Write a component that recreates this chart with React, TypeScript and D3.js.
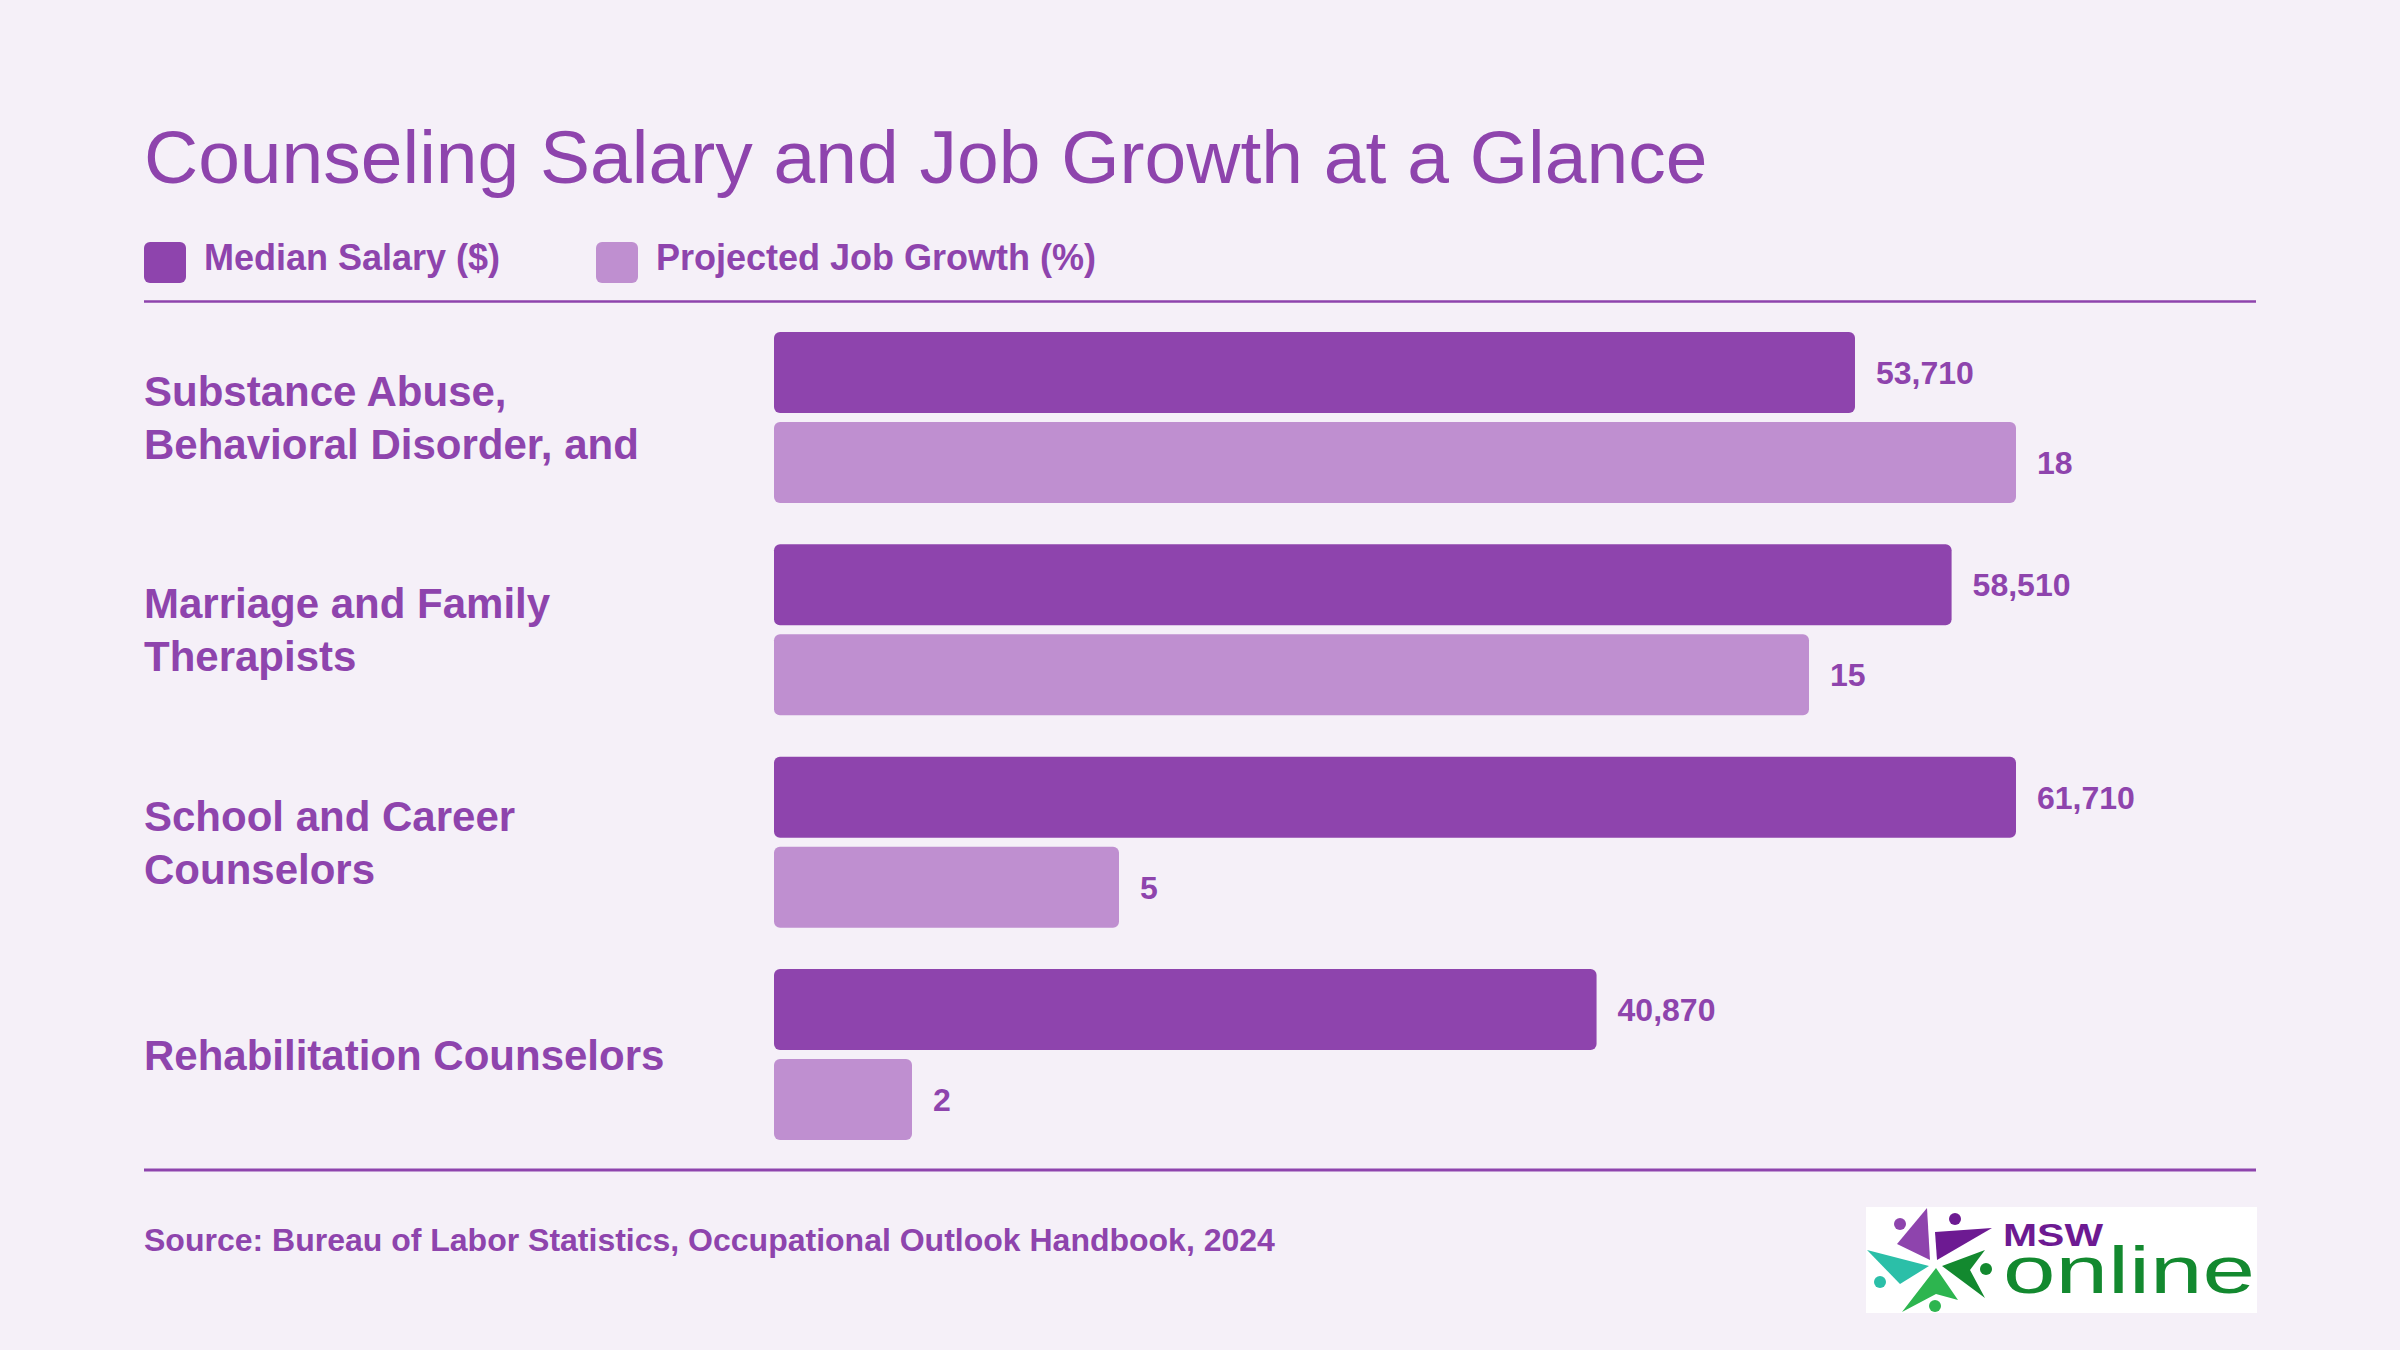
import React from 'react';
import * as d3 from 'd3';

const categories = [
  'Substance Abuse, Behavioral Disorder, and',
  'Marriage and Family Therapists',
  'School and Career Counselors',
  'Rehabilitation Counselors',
];
const categoryLines = [
  ['Substance Abuse,', 'Behavioral Disorder, and'],
  ['Marriage and Family', 'Therapists'],
  ['School and Career', 'Counselors'],
  ['Rehabilitation Counselors'],
];
const medianSalary = [53710, 58510, 61710, 40870];
const jobGrowth = [18, 15, 5, 2];
const seriesNames = ['Median Salary ($)', 'Projected Job Growth (%)'];

const W = 2400;
const H = 1350;
const PURPLE = '#8e44ad';
const LIGHT = '#bf8fd0';
const BG = '#f5f0f8';
const FONT = '"Liberation Sans", Arial, Helvetica, sans-serif';

export default function App() {
  // one row per category, two bars per row
  const y = d3.scaleBand<string>()
    .domain(categories)
    .range([332, 1140])
    .paddingInner(0.195);
  const ySub = d3.scaleBand<string>()
    .domain(['salary', 'growth'])
    .range([0, y.bandwidth()])
    .paddingInner(0.1);

  // each series scaled to its own maximum
  const xSalary = d3.scaleLinear().domain([0, d3.max(medianSalary)!]).range([774, 2016]);
  const xGrowth = d3.scaleLinear().domain([0, d3.max(jobGrowth)!]).range([774, 2016]);
  const fmt = d3.format(',');

  const rows = categories.map((c, i) => ({
    name: c,
    lines: categoryLines[i],
    salary: medianSalary[i],
    growth: jobGrowth[i],
  }));

  return (
    <div>
      <style>{'body{margin:0;}'}</style>
      <svg width={W} height={H} style={{ display: 'block', fontFamily: FONT }}>
        <rect x={0} y={0} width={W} height={H} fill={BG} />

        <text x={144} y={183} fontSize={75} fill={PURPLE}>
          Counseling Salary and Job Growth at a Glance
        </text>

        {/* legend */}
        {seriesNames.map((s, i) => {
          const lx = i === 0 ? 144 : 596;
          return (
            <g key={s}>
              <rect x={lx} y={242} width={42} height={41} rx={6} fill={i === 0 ? PURPLE : LIGHT} />
              <text x={lx + 60} y={270} fontSize={36} fontWeight="bold" fill={PURPLE}>{s}</text>
            </g>
          );
        })}

        <line x1={144} x2={2256} y1={301.5} y2={301.5} stroke={PURPLE} strokeWidth={2.5} />
        <line x1={144} x2={2256} y1={1170} y2={1170} stroke={PURPLE} strokeWidth={3} />

        {rows.map((d) => {
          const y0 = y(d.name)!;
          const cy = y0 + y.bandwidth() / 2;
          const ys = y0 + ySub('salary')!;
          const yg = y0 + ySub('growth')!;
          const bh = ySub.bandwidth();
          return (
            <g key={d.name}>
              {d.lines.map((ln, j) => (
                <text
                  key={ln}
                  x={144}
                  y={cy + (j - (d.lines.length - 1) / 2) * 53 + 15}
                  fontSize={42}
                  fontWeight="bold"
                  fill={PURPLE}
                >
                  {ln}
                </text>
              ))}
              <rect x={xSalary(0)} y={ys} width={xSalary(d.salary) - xSalary(0)} height={bh} rx={6} fill={PURPLE} />
              <text x={xSalary(d.salary) + 21} y={ys + bh / 2 + 11.5} fontSize={32} fontWeight="bold" fill={PURPLE}>
                {fmt(d.salary)}
              </text>
              <rect x={xGrowth(0)} y={yg} width={xGrowth(d.growth) - xGrowth(0)} height={bh} rx={6} fill={LIGHT} />
              <text x={xGrowth(d.growth) + 21} y={yg + bh / 2 + 11.5} fontSize={32} fontWeight="bold" fill={PURPLE}>
                {d.growth}
              </text>
            </g>
          );
        })}

        <text x={144} y={1251} fontSize={32} fontWeight="bold" fill={PURPLE}>
          Source: Bureau of Labor Statistics, Occupational Outlook Handbook, 2024
        </text>

        {/* logo */}
        <g>
          <rect x={1866} y={1207} width={391} height={106} fill="#ffffff" />
          <polygon points="1927,1208 1930,1260 1897,1244" fill="#8e44ad" />
          <polygon points="1935,1232 1992,1228 1937,1260" fill="#6d1a92" />
          <polygon points="1867,1250 1929,1266 1900,1284" fill="#2bbfa8" />
          <polygon points="1902,1312 1936,1268 1958,1300 1936,1294" fill="#2db54f" />
          <polygon points="1985,1250 1942,1266 1985,1298 1970,1270" fill="#13892f" />
          <circle cx={1900} cy={1224} r={6} fill="#8e44ad" />
          <circle cx={1955} cy={1219} r={6} fill="#6d1a92" />
          <circle cx={1880} cy={1282} r={6} fill="#2bbfa8" />
          <circle cx={1935} cy={1306} r={6} fill="#2db54f" />
          <circle cx={1986} cy={1269} r={6} fill="#13892f" />
          <text x={2003} y={1246} fontSize={32} fontWeight="bold" fill="#6d1a92" textLength={100} lengthAdjust="spacingAndGlyphs">MSW</text>
          <text x={2003} y={1293} fontSize={66} fill="#13892f" textLength={252} lengthAdjust="spacingAndGlyphs">online</text>
        </g>
      </svg>
    </div>
  );
}
